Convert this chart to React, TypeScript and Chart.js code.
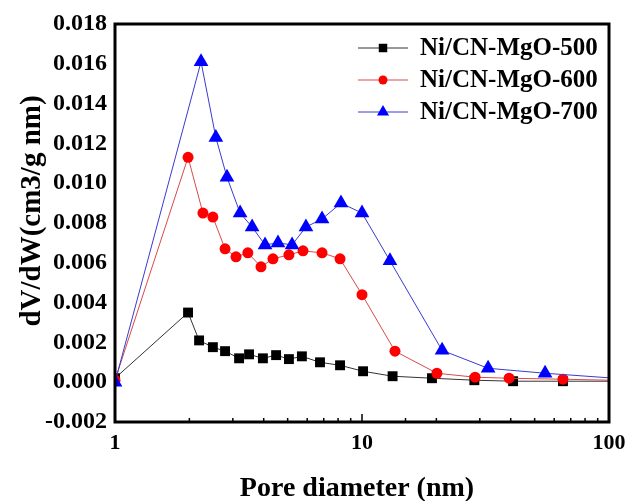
import React, { useEffect, useRef } from "react";
import { Chart, registerables } from "chart.js";

Chart.register(...registerables);

const seriesNames = ["Ni/CN-MgO-500", "Ni/CN-MgO-600", "Ni/CN-MgO-700"];
const xTitle = "Pore diameter (nm)";
const yTitle = "dV/dW(cm3/g nm)";

const x500 = [1, 1.976, 2.19, 2.49, 2.79, 3.18, 3.49, 3.97, 4.49, 5.06, 5.71, 6.76, 8.15, 10.1, 13.3, 19.2, 28.5, 40.9, 65.1, 100];
const y500 = [0.0002, 0.0035, 0.0021, 0.00176, 0.00156, 0.0012, 0.0014, 0.0012, 0.00136, 0.00116, 0.0013, 0.001, 0.00085, 0.00055, 0.0003, 0.0002, 0.0001, 0.00005, 0.00005, 0.00005];

const x600 = [1, 1.976, 2.27, 2.49, 2.79, 3.09, 3.45, 3.9, 4.36, 5.06, 5.77, 6.89, 8.15, 10, 13.6, 20.1, 28.7, 39.4, 65.1, 100];
const y600 = [0.0001, 0.0113, 0.0085, 0.0083, 0.0067, 0.0063, 0.0065, 0.0058, 0.0062, 0.0064, 0.0066, 0.0065, 0.0062, 0.0044, 0.00156, 0.00045, 0.00025, 0.0002, 0.00015, 0.0001];

const x700 = [1, 2.23, 2.56, 2.84, 3.21, 3.59, 4.05, 4.57, 5.21, 5.93, 6.89, 8.22, 10, 12.98, 21.1, 32.4, 55.1, 100];
const y700 = [0, 0.0161, 0.0123, 0.0103, 0.0085, 0.0078, 0.0069, 0.007, 0.0069, 0.0078, 0.0082, 0.009, 0.0085, 0.0061, 0.0016, 0.0007, 0.00045, 0.00022];

const xMajorLabels = [1, 10, 100];

const FONT = "'Liberation Serif', 'Times New Roman', serif";

const toPoints = (xs: number[], ys: number[]) => xs.map((x, i) => ({ x, y: ys[i] }));
const radii = (n: number, r: number) => Array.from({ length: n }, (_, i) => (i === n - 1 ? 0 : r));

function drawMarker(ctx: CanvasRenderingContext2D, style: string, x: number, y: number, r: number, color: string) {
  ctx.save();
  ctx.fillStyle = color;
  ctx.beginPath();
  if (style === "rect") {
    const s = Math.SQRT1_2 * r;
    ctx.rect(x - s, y - s, 2 * s, 2 * s);
  } else if (style === "circle") {
    ctx.arc(x, y, r, 0, Math.PI * 2);
  } else {
    ctx.moveTo(x, y - r);
    ctx.lineTo(x + r * Math.sin(Math.PI / 3), y + r * 0.5);
    ctx.lineTo(x - r * Math.sin(Math.PI / 3), y + r * 0.5);
    ctx.closePath();
  }
  ctx.fill();
  ctx.restore();
}

const framePlugin = {
  id: "frameAndTicks",
  afterDraw(chart: any) {
    const { ctx, chartArea } = chart;
    const xs = chart.scales.x;
    ctx.save();
    ctx.strokeStyle = "#000";
    ctx.lineWidth = 1.5;
    xs.ticks.forEach((t: any) => {
      const v = t.value;
      const px = xs.getPixelForValue(v);
      const lg = Math.log10(v);
      const major = Math.abs(lg - Math.round(lg)) < 1e-9;
      const len = major ? 8 : 4;
      ctx.beginPath();
      ctx.moveTo(px, chartArea.bottom);
      ctx.lineTo(px, chartArea.bottom - len);
      ctx.stroke();
    });
    ctx.lineWidth = 3;
    ctx.strokeRect(chartArea.left, chartArea.top, chartArea.right - chartArea.left, chartArea.bottom - chartArea.top);

    // axis titles
    ctx.fillStyle = "#000";
    ctx.font = `bold 28px ${FONT}`;
    ctx.textAlign = "center";
    ctx.textBaseline = "alphabetic";
    ctx.fillText(xTitle, (chartArea.left + chartArea.right) / 2 - 5, 496);
    ctx.save();
    ctx.translate(40, (chartArea.top + chartArea.bottom) / 2 - 12);
    ctx.rotate(-Math.PI / 2);
    ctx.font = `bold 29px ${FONT}`;
    ctx.fillText(yTitle, 0, 0);
    ctx.restore();

    // legend
    const rowsY = [48, 80, 112];
    chart.data.datasets.forEach((ds: any, i: number) => {
      const y = rowsY[i];
      ctx.strokeStyle = ds.borderColor;
      ctx.lineWidth = 1;
      ctx.beginPath();
      ctx.moveTo(358, y);
      ctx.lineTo(408, y);
      ctx.stroke();
      drawMarker(ctx, ds.pointStyle, 383, y, ds.legendRadius, ds.pointBackgroundColor);
      ctx.fillStyle = "#000";
      ctx.font = `bold 25px ${FONT}`;
      ctx.textAlign = "left";
      ctx.textBaseline = "middle";
      ctx.fillText(ds.label, 420, y + 1);
    });
    ctx.restore();
  },
};

export default function App() {
  const ref = useRef<HTMLCanvasElement | null>(null);
  useEffect(() => {
    document.body.style.margin = "0";
    const chart = new Chart(ref.current as HTMLCanvasElement, {
      type: "line",
      data: {
        datasets: [
          {
            label: seriesNames[0],
            data: toPoints(x500, y500),
            borderColor: "#333333",
            borderWidth: 1,
            pointStyle: "rect",
            pointRadius: radii(x500.length, 7),
            pointBackgroundColor: "#000000",
            pointBorderWidth: 0,
            legendRadius: 6,
            order: 3,
          } as any,
          {
            label: seriesNames[1],
            data: toPoints(x600, y600),
            borderColor: "#d84a4a",
            borderWidth: 1,
            pointStyle: "circle",
            pointRadius: radii(x600.length, 5.5),
            pointBackgroundColor: "#ff0000",
            pointBorderWidth: 0,
            legendRadius: 4.5,
            order: 2,
          } as any,
          {
            label: seriesNames[2],
            data: toPoints(x700, y700),
            borderColor: "#3a3ad0",
            borderWidth: 1,
            pointStyle: "triangle",
            pointRadius: radii(x700.length, 8.5),
            pointBackgroundColor: "#0000ff",
            pointBorderWidth: 0,
            legendRadius: 7,
            order: 1,
          } as any,
        ],
      },
      options: {
        animation: false,
        responsive: false,
        layout: { padding: { top: 24, right: 19, left: 0, bottom: 0 } },
        plugins: { legend: { display: false }, tooltip: { enabled: false } },
        elements: { line: { tension: 0 } },
        scales: {
          x: {
            type: "logarithmic",
            min: 1,
            max: 100,
            grid: { display: false, drawTicks: false },
            border: { display: false },
            ticks: {
              autoSkip: false,
              maxRotation: 0,
              padding: 8,
              color: "#000",
              font: { family: FONT, size: 22, weight: "bold" },
              callback: (v: any) => (xMajorLabels.includes(Number(v)) ? String(v) : ""),
            },
            afterFit: (s: any) => {
              s.height = 79;
              s.paddingLeft = 0;
              s.paddingRight = 0;
            },
          },
          y: {
            min: -0.002,
            max: 0.018,
            grid: { display: false, drawTicks: false },
            border: { display: false },
            ticks: {
              stepSize: 0.002,
              padding: 8,
              color: "#000",
              font: { family: FONT, size: 24, weight: "bold" },
              callback: (v: any) => (Math.abs(Number(v)) < 1e-10 ? "0.000" : Number(v).toFixed(3)),
            },
            afterFit: (s: any) => {
              s.width = 115;
              s.paddingTop = 0;
              s.paddingBottom = 0;
            },
          },
        },
      } as any,
      plugins: [framePlugin],
    });
    return () => chart.destroy();
  }, []);
  return (
    <div style={{ position: "absolute", left: 0, top: 0, width: 628, height: 501 }}>
      <canvas ref={ref} width={628} height={501} />
    </div>
  );
}
